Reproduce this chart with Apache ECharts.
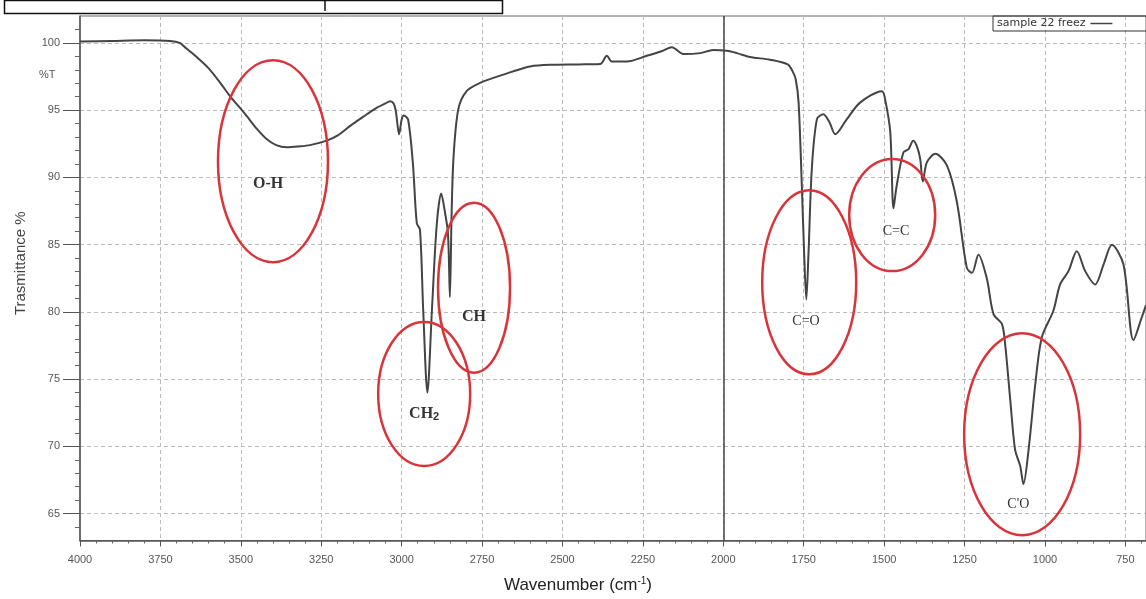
<!DOCTYPE html>
<html>
<head>
<meta charset="utf-8">
<script src="https://cdn.jsdelivr.net/npm/echarts@6/dist/echarts.min.js"></script>
<style>
  html, body { margin: 0; padding: 0; background: #fff; }
  #container { width: 1146px; height: 599px; }
</style>
</head>
<body>
<div id="container"></div>
<script>
// spectrum (wavenumber cm-1, transmittance %)
const wavenumber = [4000, 3900, 3800, 3720, 3690, 3670, 3640, 3600, 3560, 3534, 3500, 3482, 3450, 3420, 3390, 3357,
  3320, 3285, 3233, 3200, 3160, 3120, 3077, 3050, 3036, 3025, 3018, 3008, 3000, 2993, 2980, 2965, 2953, 2943,
  2933, 2920, 2906, 2891, 2877, 2866, 2856, 2850, 2845, 2839, 2824, 2798, 2756, 2684, 2601, 2528, 2450, 2383,
  2362, 2347, 2300, 2238, 2190, 2160, 2124, 2072, 2031, 1989, 1958, 1917, 1855, 1800, 1785, 1775, 1766, 1756,
  1749, 1742, 1735, 1725, 1709, 1689, 1670, 1652, 1616, 1575, 1507, 1497, 1481, 1471, 1461, 1440, 1424, 1410,
  1399, 1388, 1380, 1367, 1341, 1305, 1274, 1243, 1227, 1207, 1181, 1160, 1134, 1124, 1108, 1093, 1077, 1067,
  1051, 1030, 1010, 974, 953, 927, 901, 875, 844, 818, 792, 756, 725, 699, 686]
const transmittance = [100.1, 100.15, 100.2, 100.15, 100.0, 99.6, 99.0, 98.1, 96.9, 96.05, 95.1, 94.57, 93.6, 92.85, 92.4, 92.24,
  92.3, 92.4, 92.73, 93.1, 93.83, 94.5, 95.19, 95.5, 95.67, 95.5, 94.9, 93.2, 94.3, 94.6, 94.3, 91.0, 86.6, 86.1,
  80.1, 74.0, 80.1, 86.46, 88.8, 87.5, 85.8, 81.1, 87.0, 91.4, 95.06, 96.41, 97.03, 97.64, 98.25, 98.38, 98.4, 98.43,
  99.04, 98.62, 98.62, 99.04, 99.4, 99.68, 99.17, 99.24, 99.48, 99.41, 99.24, 98.95, 98.75, 98.4, 97.9, 97.3, 95.56, 89.4,
  84.5, 80.9, 84.5, 90.6, 94.33, 94.7, 94.1, 93.2, 94.33, 95.56, 96.41, 95.8, 93.35, 87.7, 89.4, 91.87, 92.1, 92.73,
  92.36, 91.38, 89.7, 91.13, 91.75, 90.89, 88.19, 83.27, 82.9, 84.25, 82.5, 79.83, 79.1, 77.62, 73.45, 69.76, 68.53, 67.2,
  69.76, 74.67, 78.1, 80.08, 82.04, 83.03, 84.5, 83.03, 82.04, 83.52, 84.99, 83.52, 77.9, 79.6, 80.5]

const xTicks = [4000, 3750, 3500, 3250, 3000, 2750, 2500, 2250, 2000, 1750, 1500, 1250, 1000, 750]
const yTicks = [65, 70, 75, 80, 85, 90, 95, 100]

// band annotations: ellipse centre and label position in data units
const bandNames = ['O-H', 'CH{s|2}', 'CH', 'C=O', 'C=C', "C'O"]
const bandWave = [3400, 2930, 2775, 1733, 1475, 1071]
const bandTrans = [91.2, 73.9, 81.8, 82.2, 87.2, 70.9]
const labelWave = [3415, 2930, 2775, 1743, 1463, 1083]
const labelTrans = [89.5, 72.4, 79.6, 79.3, 86.0, 65.7]

const seriesName = 'sample 22 freez'

const spectrum = wavenumber.map((w, i) => [w, transmittance[i]])
const bands = bandNames.map((n, i) => [bandWave[i], bandTrans[i], labelWave[i], labelTrans[i], n, i])

// ellipse radii in px (rx, ry)
const radii = [[55, 101], [46, 72], [36, 85], [47, 92], [43, 56], [58, 101]]

const dom = document.getElementById('container')
const myChart = echarts.init(dom)

const option = {
  animation: false,
  textStyle: { fontFamily: 'Liberation Sans, Arial, sans-serif' },
  grid: {
    left: 80, right: 0, top: 16, bottom: 53,
    show: true, borderColor: '#666', borderWidth: 1
  },
  legend: {
    data: [seriesName],
    left: 993,
    top: 16,
    align: 'right',
    icon: 'rect',
    itemWidth: 22,
    itemHeight: 1.5,
    itemGap: 6,
    padding: [2, 40, 2, 4],
    borderColor: '#333',
    borderWidth: 1,
    textStyle: { fontSize: 11, color: '#333', fontFamily: 'DejaVu Sans, sans-serif' }
  },
  xAxis: {
    type: 'value',
    inverse: true,
    min: 686,
    max: 4000,
    minInterval: 250,
    maxInterval: 250,
    name: 'Wavenumber (cm{sup|-1})',
    nameLocation: 'middle',
    nameGap: 36,
    nameTextStyle: {
      fontSize: 17, color: '#222', padding: [0, 70, 0, 0],
      rich: { sup: { fontSize: 10, color: '#222', verticalAlign: 'top', padding: [0, 0, 8, 0] } }
    },
    axisLine: { show: true, lineStyle: { color: '#555', width: 1.5 } },
    axisTick: { show: true, length: 6, customValues: xTicks, lineStyle: { color: '#555' } },
    minorTick: { show: true, splitNumber: 5, length: 3, lineStyle: { color: '#666' } },
    axisLabel: { customValues: xTicks, fontSize: 11, color: '#555', margin: 14, formatter: (v) => String(v) },
    splitLine: { show: true, lineStyle: { color: '#bbb', type: [4, 3] } }
  },
  yAxis: {
    type: 'value',
    min: 63,
    max: 102,
    minInterval: 5,
    maxInterval: 5,
    name: 'Trasmittance %',
    nameLocation: 'middle',
    nameGap: 52,
    nameTextStyle: { fontSize: 15, color: '#444', padding: [0, 0, 0, 30] },
    axisLine: { show: true, lineStyle: { color: '#555', width: 1.5 } },
    axisTick: { show: true, length: 17, customValues: yTicks, lineStyle: { color: '#555' } },
    minorTick: { show: true, splitNumber: 5, length: 5, lineStyle: { color: '#666' } },
    axisLabel: { customValues: yTicks, fontSize: 11, color: '#555', margin: 20 },
    splitLine: { show: true, lineStyle: { color: '#bbb', type: [4, 3] } }
  },
  series: [
    {
      name: seriesName,
      type: 'line',
      data: spectrum,
      showSymbol: false,
      smooth: 0.3,
      lineStyle: { color: '#444', width: 2, join: 'round' },
      itemStyle: { color: '#444' },
      markLine: {
        silent: true,
        symbol: 'none',
        label: { show: false },
        lineStyle: { color: '#444', width: 1.5, type: 'solid' },
        data: [{ xAxis: 2000 }]
      }
    },
    {
      type: 'custom',
      data: bands,
      z: 5,
      renderItem: (params, api) => {
        const c = api.coord([api.value(0), api.value(1)])
        const t = api.coord([api.value(2), api.value(3)])
        const idx = api.value(5)
        const r = radii[idx]
        const big = idx < 3
        return {
          type: 'group',
          children: [
            {
              type: 'ellipse',
              shape: { cx: c[0], cy: c[1], rx: r[0], ry: r[1] },
              style: { fill: 'none', stroke: '#d8353b', lineWidth: 2.5 }
            },
            {
              type: 'text',
              x: t[0],
              y: t[1],
              style: {
                text: bands[idx][4],
                fontFamily: 'Liberation Serif, DejaVu Serif, serif',
                fontSize: big ? 16 : 14,
                fontWeight: big ? 'bold' : 'normal',
                fill: '#333',
                align: 'center',
                verticalAlign: 'middle',
                rich: { s: { fontSize: 11, fontWeight: 'bold', verticalAlign: 'bottom', padding: [6, 0, 0, 0] } }
              }
            }
          ]
        }
      }
    }
  ],
  graphic: [
    { type: 'rect', left: 2, top: -2, shape: { width: 498, height: 13 }, style: { fill: 'none', stroke: '#111', lineWidth: 1.5 } },
    { type: 'line', shape: { x1: 325, y1: 0, x2: 325, y2: 11 }, style: { stroke: '#111', lineWidth: 1.5 } },
    { type: 'text', left: 39, top: 69, style: { text: '%T', fontSize: 11, fill: '#555', fontFamily: 'Liberation Sans, Arial, sans-serif' } }
  ]
}

myChart.setOption(option, true)
window.addEventListener('resize', () => {
  myChart.resize()
})
</script>
</body>
</html>
